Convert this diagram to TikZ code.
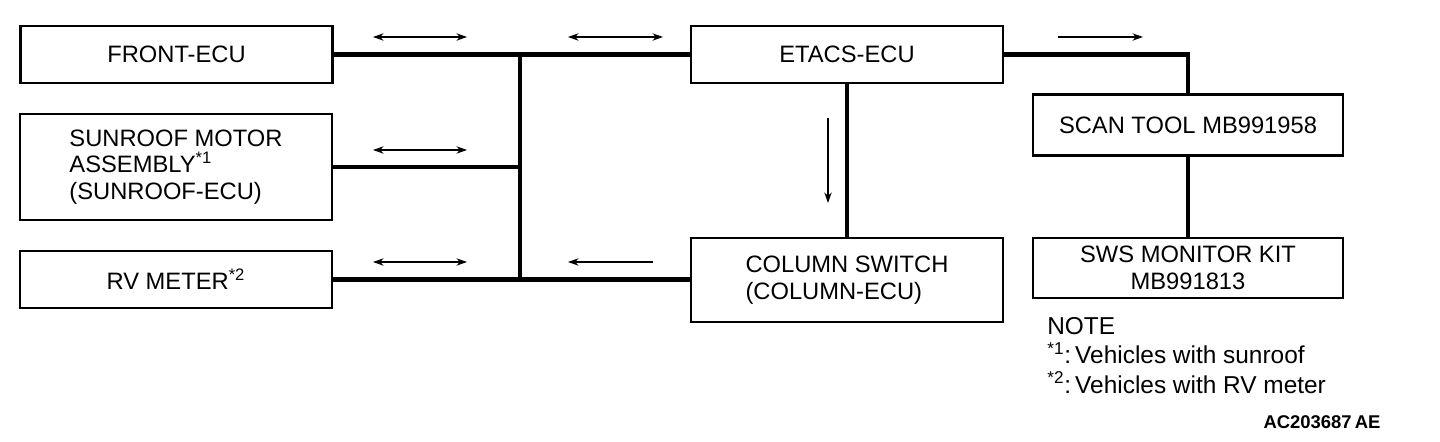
\documentclass[tikz,border=0pt]{standalone}
\usepackage{fontspec}
\setmainfont{Liberation Sans}
\usepackage{tikz}
\usetikzlibrary{arrows.meta}

\tikzset{
  unitbox/.style={draw, line width=1.4pt, minimum width=6.24cm, align=left,
    font=\fontsize{13.5}{15.2}\selectfont},
  bus/.style={line width=2.8pt},
  flow/.style={line width=0.9pt}
}

\begin{document}
\begin{tikzpicture}[x=0.02cm, y=-0.02cm, >={Stealth[length=6pt,width=4.2pt]}]
			\useasboundingbox (0,0) rectangle (1440,442);

			% Các khối
			\node[unitbox, minimum height=1.14cm] (front) at (176.5,54.5) {FRONT-ECU};
			\node[unitbox, minimum height=2.12cm] (sunroof) at (176,167) {SUNROOF MOTOR\\ASSEMBLY\textsuperscript{*1}\\(SUNROOF-ECU)};
			\node[unitbox, minimum height=1.14cm] (rvmeter) at (176,279.5) {RV METER\textsuperscript{*2}};
			\node[unitbox, minimum height=1.14cm] (etacs) at (847,54.5) {ETACS-ECU};
			\node[unitbox, minimum height=1.68cm] (column) at (847,280) {COLUMN SWITCH\\(COLUMN-ECU)};
			\node[unitbox, minimum width=6.2cm, minimum height=1.22cm] (scan) at (1188,125) {SCAN TOOL MB991958};
			\node[unitbox, minimum width=6.2cm, minimum height=1.2cm, align=center] (sws) at (1188,268) {SWS MONITOR KIT\\MB991813};

			% Đường truyền
			\coordinate (jx) at (520,0);
			\draw[bus] (front) -- (etacs);
			\draw[bus] (jx |- front) -- (jx |- rvmeter);
			\draw[bus] (sunroof) -- (jx |- sunroof);
			\draw[bus] (rvmeter.east) -- (rvmeter.east -| column.west);
			\draw[bus] (etacs) -- (column);
			\draw[bus] (etacs.east) -| (scan.north);
			\draw[bus] (scan) -- (sws);

			% Mũi tên chiều tín hiệu
			\draw[<->, flow] (373,37) -- (467,37);
			\draw[<->, flow] (568,37) -- (663,37);
			\draw[->, flow] (1058,37) -- (1143,37);
			\draw[<->, flow] (373,150) -- (467,150);
			\draw[<->, flow] (373,262) -- (467,262);
			\draw[->, flow] (653,262) -- (568,262);
			\draw[->, flow] (828,118) -- (828,203);

			% Ghi chú
			\node[anchor=north west, align=left, inner sep=0pt, font=\fontsize{13.9}{16.7}\selectfont] (note) at (1047,317)
				{NOTE\\\textsuperscript{*1}:\,Vehicles with sunroof\\\textsuperscript{*2}:\,Vehicles with RV meter};
			\node[font=\fontsize{10.5}{12}\selectfont\bfseries] (code) at (1322,422) {AC203687\,AE};
		\end{tikzpicture}
\end{document}
